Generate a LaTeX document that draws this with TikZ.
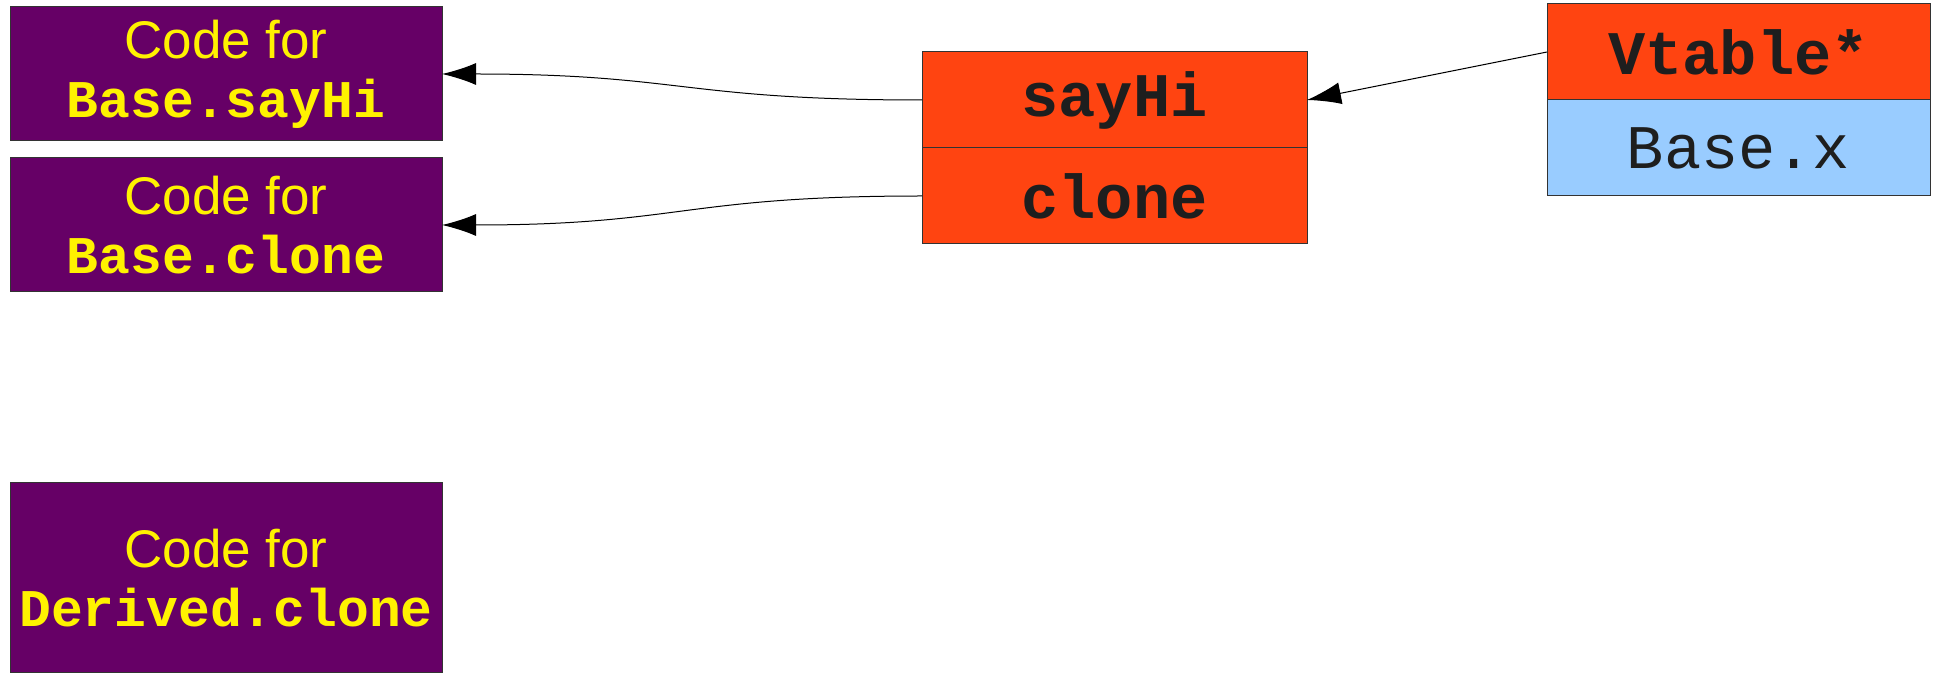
\documentclass[tikz,border=0pt]{standalone}
\usepackage{fontspec}
\setmainfont{Liberation Sans}
\setmonofont{Liberation Mono}
\usetikzlibrary{positioning,arrows.meta}

\definecolor{codepurple}{HTML}{660066}
\definecolor{slotred}{HTML}{FF4411}
\definecolor{fieldblue}{HTML}{99CCFF}
\definecolor{slottext}{HTML}{1E1E1E}

\tikzset{
  codebox/.style={draw=black!80, line width=0.5pt, fill=codepurple, text=yellow,
    minimum width=216pt, minimum height=67pt, inner sep=0pt, outer sep=0pt,
    align=center, font=\fontsize{26.5}{29.5}\selectfont},
  slotbox/.style={draw=black!80, line width=0.5pt, fill=slotred, text=slottext,
    minimum width=192.5pt, minimum height=48pt, inner sep=0pt, outer sep=0pt,
    font=\fontsize{31}{31}\selectfont\ttfamily\bfseries},
  fieldbox/.style={slotbox, fill=fieldblue, font=\fontsize{31}{31}\selectfont\ttfamily},
  ptr/.style={line width=0.5pt, -{Latex[length=17pt,width=11pt]}}
}

\begin{document}
\begin{tikzpicture}[x=0.5pt,y=-0.5pt]
\useasboundingbox (0,0) rectangle (1935,673);

% code blocks
\node[codebox] (basesayhi) at (226,74) {Code for\\\texttt{\bfseries Base.sayHi}};
\node[codebox] (baseclone) at (226,225) {Code for\\\texttt{\bfseries Base.clone}};
\node[codebox, minimum height=95pt] (derivedclone) at (226,578) {Code for\\\texttt{\bfseries Derived.clone}};

% vtable
\node[slotbox] (sayhi) at (1114.5,100) {sayHi};
\node[slotbox, below=0pt of sayhi] (clone) {clone};

% object
\node[slotbox, minimum width=191.5pt] (vtable) at (1738.5,52) {Vtable*};
\node[fieldbox, minimum width=191.5pt, below=0pt of vtable] (basex) {Base.x};

\draw[ptr] (sayhi.west) .. controls +(-120pt,0) and +(120pt,0) .. (basesayhi.east);
\draw[ptr] (clone.west) .. controls +(-120pt,0) and +(120pt,0) .. (baseclone.east);
\draw[ptr] (vtable.west) -- (sayhi.east);
\end{tikzpicture}
\end{document}
